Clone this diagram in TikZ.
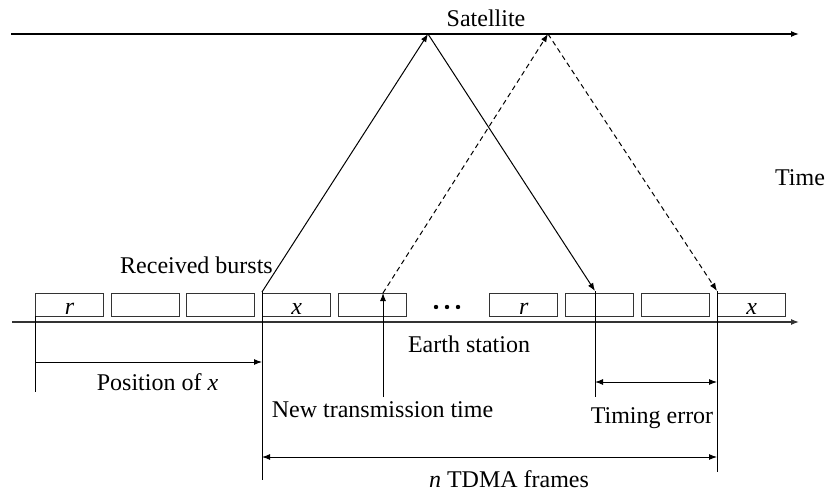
\documentclass[tikz,border=0pt]{standalone}
\usepackage{fontspec}
\setmainfont{Liberation Serif}
\usetikzlibrary{arrows.meta}
\begin{document}
\begin{tikzpicture}[x=0.5pt,y=-0.5pt,
  line width=0.6pt,
  tip/.style={-{Latex[length=4pt,width=3pt]}},
  both/.style={{Latex[length=4pt,width=3pt]}-{Latex[length=4pt,width=3pt]}},
  burst/.style={draw=black!80,line width=0.7pt,minimum width=34pt,minimum height=11.5pt,inner sep=0pt,anchor=north west},
  lbl/.style={font=\fontsize{12}{14}\selectfont,anchor=base,inner sep=0pt},
  sig/.style={line width=0.5pt},
  dsh/.style={dash pattern=on 2.5pt off 1.8pt}]
\useasboundingbox (0,0) rectangle (828,491);

% time axes
\coordinate (satL) at (11,34);
\coordinate (satR) at (799,34);
\coordinate (esL) at (12,322);
\coordinate (esR) at (799,322);
\draw[tip] (satL) -- (satR);
\draw[tip,black!80] (esL) -- (esR);
\node[lbl] (satlbl) at (486,27) {Satellite};
\node[lbl] (timelbl) at (800,186) {Time};
\node[lbl] (eslbl) at (469,352) {Earth station};

% bursts received at the earth station
\node[burst] (b1) at (35,293) {};
\node[burst] (b2) at (110.5,293) {};
\node[burst] (b3) at (186,293) {};
\node[burst] (b4) at (262,293) {};
\node[burst] (b5) at (338,293) {};
\node[burst] (b6) at (489,293) {};
\node[burst] (b7) at (565,293) {};
\node[burst] (b8) at (641,293) {};
\node[burst] (b9) at (717,293) {};
\node[lbl] (r1) at ([yshift=1.6pt]b1.south) {\textit{r}};
\node[lbl] (x1) at ([yshift=1.6pt]b4.south) {\textit{x}};
\node[lbl] (r2) at ([yshift=1.6pt]b6.south) {\textit{r}};
\node[lbl] (x2) at ([yshift=1.6pt]b9.south) {\textit{x}};
\foreach \xx in {436,447,458} \fill (\xx,307) circle (1.1pt);
\node[lbl] (rcv) at (196.5,273) {Received bursts};

% round trip of the reference burst and of the corrected burst
\coordinate (sendA) at (262,292);
\coordinate (apexA) at (428,34);
\coordinate (recvA) at (595,291);
\coordinate (sendB) at (383,293);
\coordinate (apexB) at (548,34);
\coordinate (recvB) at (717,291);
\draw[sig,tip] (sendA) -- (apexA);
\draw[sig,tip] (apexA) -- (recvA);
\draw[sig,tip,dsh] (sendB) -- (apexB);
\draw[sig,tip,dsh] (apexB) -- (recvB);

% reference lines below the axis
\coordinate (v0t) at (35,316);
\coordinate (v0b) at (35,392);
\coordinate (v1b) at (262,480);
\coordinate (ntb) at (383,397);
\coordinate (v2b) at (595,397);
\coordinate (v3b) at (717,472);
\draw[sig] (v0t) -- (v0b);
\draw[sig] (sendA) -- (v1b);
\draw[sig,tip] (ntb) -- (sendB);
\draw[sig] (recvA) -- (v2b);
\draw[sig] (recvB) -- (v3b);

% spans
\coordinate (posL) at (35,362);
\coordinate (posR) at (262,362);
\coordinate (teL) at (595,382);
\coordinate (teR) at (717,382);
\coordinate (nL) at (262,457);
\coordinate (nR) at (717,457);
\draw[sig,tip] (posL) -- (posR);
\draw[sig,both] (teL) -- (teR);
\draw[sig,both] (nL) -- (nR);
\node[lbl] (poslbl) at (157.5,390) {Position of \textit{x}};
\node[lbl] (ntlbl) at (382.5,417) {New transmission time};
\node[lbl] (telbl) at (652,423) {Timing error};
\node[lbl] (nlbl) at (509,487) {\textit{n} TDMA frames};
\end{tikzpicture}
\end{document}
